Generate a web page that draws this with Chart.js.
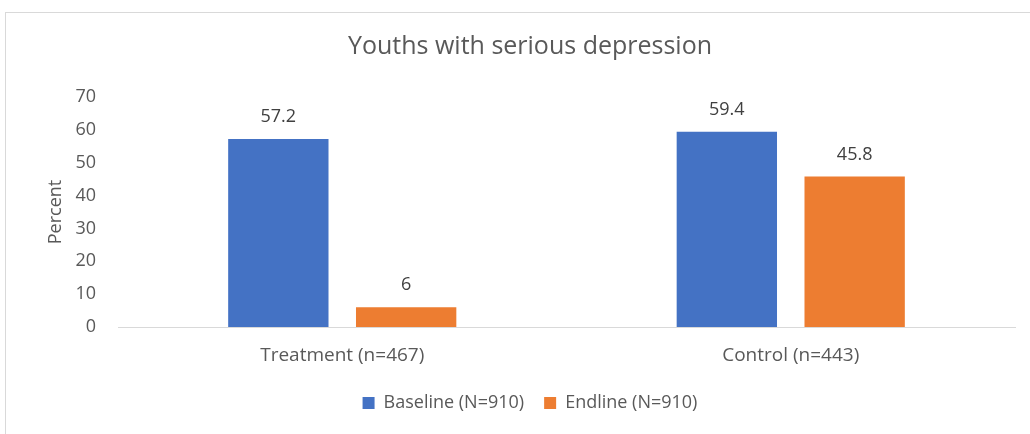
<!DOCTYPE html>
<html>
<head>
<meta charset="utf-8">
<script src="https://cdn.jsdelivr.net/npm/chart.js@4/dist/chart.umd.min.js"></script>
<style>
  html, body { margin: 0; padding: 0; background: #ffffff; }
  body { width: 1030px; height: 434px; position: relative; overflow: hidden; }
  #frame { position: absolute; left: 5px; top: 12px; width: 1040px; height: 440px; border: 1px solid #d9d9d9; box-sizing: border-box; }
  #wrap { position: absolute; left: 0; top: 0; width: 1030px; height: 434px; }
</style>
</head>
<body>
<div id="frame"></div>
<div id="wrap"><canvas id="c"></canvas></div>
<script>
const categories = ["Treatment (n=467)", "Control (n=443)"];
const baselineValues = [57.2, 59.4];
const endlineValues = [6, 45.8];
const baselineLabel = "Baseline (N=910)";
const endlineLabel = "Endline (N=910)";
const titleText = "Youths with serious depression";
const yAxisTitle = "Percent";
const yMin = 0, yMax = 70, yStep = 10;

const FONT = "'Open Sans', sans-serif";
const TEXT = "#595959";

const valueLabels = {
  id: 'valueLabels',
  afterDatasetsDraw(chart) {
    const ctx = chart.ctx;
    ctx.save();
    ctx.font = "18px " + FONT;
    ctx.fillStyle = "#404040";
    ctx.textAlign = "center";
    ctx.textBaseline = "middle";
    chart.data.datasets.forEach((ds, i) => {
      const meta = chart.getDatasetMeta(i);
      meta.data.forEach((bar, j) => {
        ctx.fillText(String(ds.data[j]), bar.x, bar.y - 22);
      });
    });
    ctx.restore();
  }
};

new Chart(document.getElementById('c'), {
  type: 'bar',
  data: {
    labels: categories,
    datasets: [
      { label: baselineLabel, data: baselineValues, backgroundColor: "#4472c4", categoryPercentage: 0.57, barPercentage: 0.785 },
      { label: endlineLabel, data: endlineValues, backgroundColor: "#ed7d31", categoryPercentage: 0.57, barPercentage: 0.785 }
    ]
  },
  options: {
    responsive: true,
    maintainAspectRatio: false,
    animation: false,
    layout: { padding: { left: 45, right: 15, top: 22, bottom: 12 } },
    plugins: {
      title: { display: true, text: titleText, color: TEXT, font: { family: FONT, size: 25, weight: 'normal' }, padding: { top: 10, bottom: 35 } },
      legend: { position: 'bottom', labels: { color: TEXT, font: { family: FONT, size: 18 }, boxWidth: 12, boxHeight: 12, padding: 20 } },
      tooltip: { enabled: false }
    },
    scales: {
      x: {
        grid: { display: false, drawTicks: false },
        border: { display: true, color: "#d9d9d9", width: 1 },
        ticks: { color: TEXT, font: { family: FONT, size: 19 }, padding: 17 },
        afterFit(axis) { axis.height = 47; }
      },
      y: {
        min: yMin, max: yMax,
        grid: { display: false, drawTicks: false },
        border: { display: false },
        ticks: { stepSize: yStep, color: TEXT, font: { family: FONT, size: 18 }, padding: 22 },
        title: { display: true, text: yAxisTitle, color: TEXT, font: { family: FONT, size: 18 }, padding: 0 },
        afterFit(axis) { axis.width = 73; }
      }
    }
  },
  plugins: [valueLabels]
});
</script>
</body>
</html>
